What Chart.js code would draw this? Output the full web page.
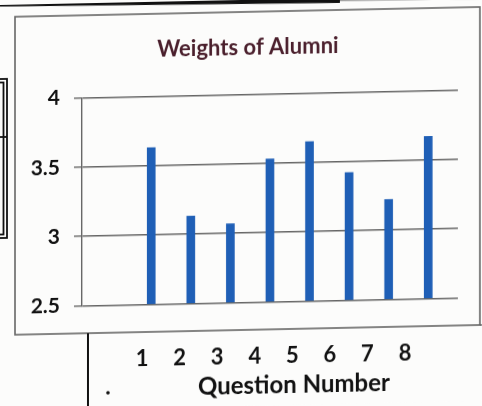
<!DOCTYPE html>
<html>
<head>
<meta charset="utf-8">
<script src="https://cdn.jsdelivr.net/npm/chart.js@4"></script>
<style>
  html, body { margin: 0; padding: 0; background: #fcfcfb; overflow: hidden; }
  #chart { display: block; transform: skewY(-1.2deg); transform-origin: 241px 203px; }
</style>
</head>
<body>
<canvas id="chart" width="482" height="406"></canvas>
<script>
// data
const questions = [1, 2, 3, 4, 5, 6, 7, 8];
const weights = [3.63, 3.13, 3.07, 3.53, 3.65, 3.42, 3.22, 3.67];
const yTicks = [2.5, 3, 3.5, 4];
const titleText = "Weights of Alumni";
const xTitleText = "Question Number";

const FONT = "Lato, 'Open Sans', sans-serif";

// paper, scan edges, boxes and the two titles
const paper = {
  id: "paper",
  beforeDraw(chart) {
    const c = chart.ctx;
    c.save();
    c.fillStyle = "#fcfcfb";
    c.fillRect(0, 0, chart.width, chart.height);

    // thick edge at the top
    c.strokeStyle = "#111";
    c.lineWidth = 5;
    c.beginPath();
    c.moveTo(0, -1);
    c.lineTo(340, 2.5);
    c.stroke();
    c.strokeStyle = "#999";
    c.lineWidth = 1.5;
    c.beginPath();
    c.moveTo(340, 2.5);
    c.lineTo(482, 3.5);
    c.stroke();

    // chart frame
    c.strokeStyle = "#666";
    c.lineWidth = 1.6;
    c.strokeRect(15, 12, 465, 318);
    c.beginPath();
    c.moveTo(480, 330);
    c.lineTo(482, 330);
    c.stroke();

    // boxes on the left edge
    c.strokeStyle = "#111";
    c.lineWidth = 1.8;
    c.strokeRect(-3, 74, 10, 159);
    c.strokeRect(-3, 77.5, 6.5, 152);
    c.beginPath();
    c.moveTo(-3, 132);
    c.lineTo(7, 132);
    c.stroke();

    // line under the frame
    c.lineWidth = 2;
    c.beginPath();
    c.moveTo(88, 330);
    c.lineTo(88, 410);
    c.stroke();
    c.fillStyle = "#111";
    c.beginPath();
    c.arc(108, 390, 1.8, 0, Math.PI * 2);
    c.fill();
    c.restore();
  },
  afterDraw(chart) {
    const c = chart.ctx;
    c.save();
    c.textAlign = "center";
    c.textBaseline = "middle";
    c.fillStyle = "#4a1f2c";
    c.font = "bold 22px " + FONT;
    c.fillText(titleText, 248, 48);
    c.fillStyle = "#111";
    c.font = "bold 24px " + FONT;
    c.fillText(xTitleText, 294, 386);
    c.restore();
  },
};

const ctx = document.getElementById("chart").getContext("2d");
const myChart = new Chart(ctx, {
  type: "bar",
  data: {
    datasets: [
      {
        data: questions.map((q, i) => ({ x: q, y: weights[i] })),
        backgroundColor: "#1f5fb6",
        barThickness: 8,
        base: 2.5,
        xAxisID: "x",
      },
    ],
  },
  options: {
    responsive: false,
    devicePixelRatio: 1,
    animation: false,
    layout: { padding: { left: 8, right: 24, top: 94.5, bottom: 0 } },
    plugins: {
      legend: { display: false },
      tooltip: { enabled: false },
    },
    scales: {
      x: {
        type: "linear",
        display: false,
        offset: false,
        min: -0.75,
        max: 8.75,
      },
      x2: {
        type: "linear",
        position: "bottom",
        offset: false,
        min: -0.6,
        max: 9.41,
        grid: { display: false },
        border: { display: false },
        afterBuildTicks: (axis) => {
          axis.ticks = questions.map((v) => ({ value: v }));
        },
        afterFit: (axis) => {
          axis.height = 103.5;
        },
        ticks: {
          padding: 33,
          color: "#111",
          font: { family: FONT, size: 22, weight: "bold" },
          callback: (v) => String(v),
        },
      },
      y: {
        min: 2.5,
        max: 4,
        afterBuildTicks: (axis) => {
          axis.ticks = yTicks.map((v) => ({ value: v }));
        },
        afterFit: (axis) => {
          axis.width = 74;
        },
        grid: { color: "#666", lineWidth: 1.4, tickLength: 8 },
        border: { display: true, color: "#666", width: 1.4 },
        ticks: {
          padding: 14,
          color: "#111",
          font: { family: FONT, size: 21, weight: "bold" },
          callback: (v) => String(v),
        },
      },
    },
  },
  plugins: [paper],
});
</script>
</body>
</html>
